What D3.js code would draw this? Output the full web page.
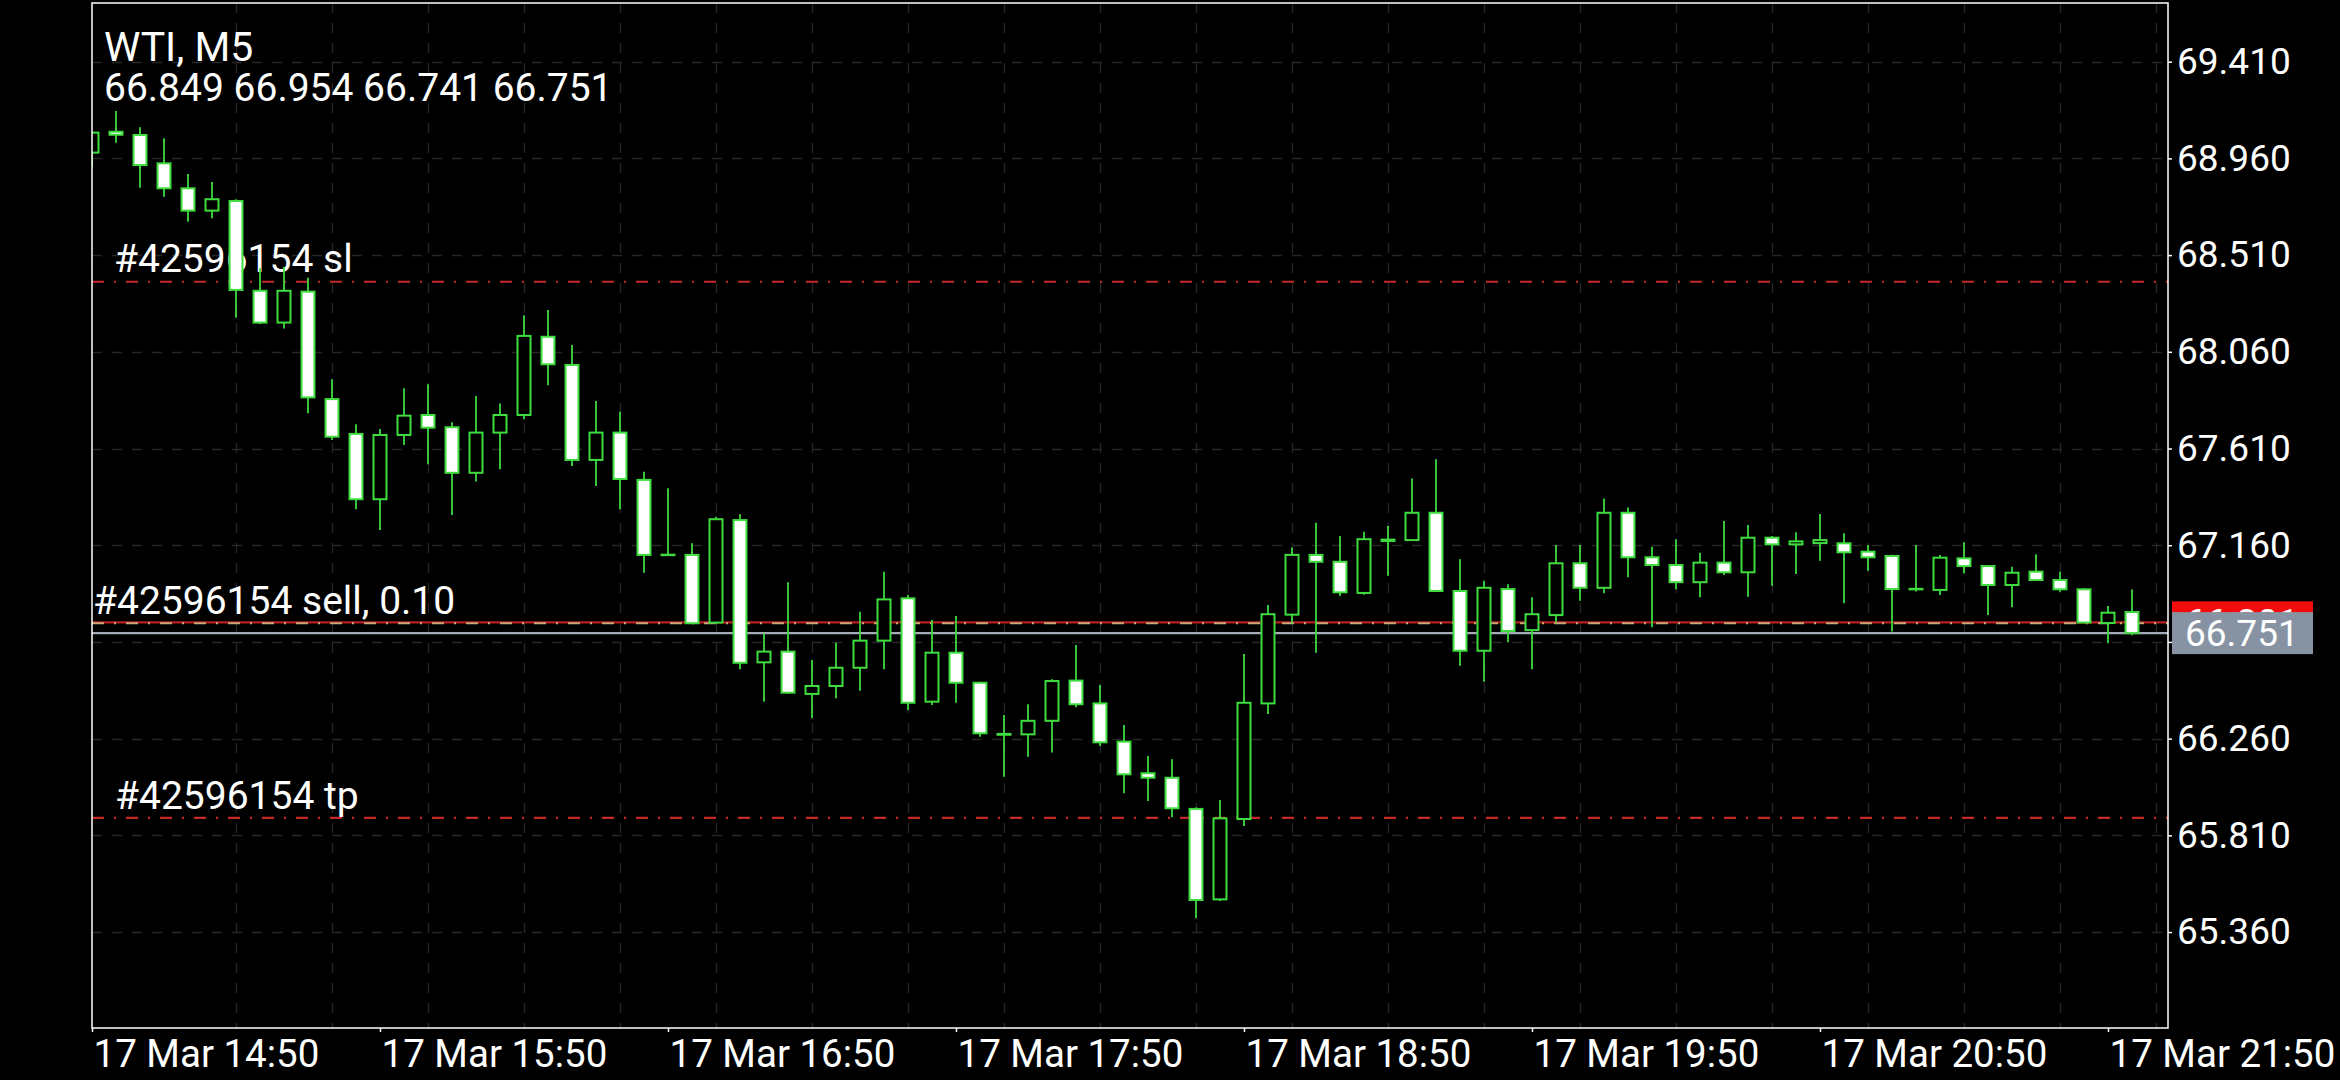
<!DOCTYPE html>
<html><head><meta charset="utf-8">
<script src="https://cdn.jsdelivr.net/npm/d3@7"></script>
<style>
html,body{margin:0;padding:0;background:#000;overflow:hidden}
svg{display:block}
text{font-family:Roboto,"Noto Sans",sans-serif;fill:#fff}
</style>
</head><body>
<svg id="chart" width="2340" height="1080"></svg>
<script>
// ---- data (WTI, M5, 17 Mar, candles from 14:50) ----
const symbolTitle = "WTI, M5";
const lastOHLC = "66.849 66.954 66.741 66.751";
const firstBar = "2025-03-17 14:50";
const barMinutes = 5;
const opens  = [68.987,69.084,69.069,68.937,68.821,68.717,68.762,68.344,68.196,68.340,67.840,67.678,67.374,67.673,67.766,67.709,67.497,67.684,67.766,68.130,67.999,67.557,67.684,67.464,67.116,67.115,66.800,67.277,66.615,66.665,66.468,66.505,66.590,66.716,66.913,66.432,66.660,66.520,66.282,66.280,66.343,66.530,66.424,66.246,66.099,66.078,65.933,65.512,65.886,66.424,66.837,67.115,67.083,66.938,67.186,67.184,67.311,66.947,66.669,66.956,66.765,66.835,67.076,66.962,67.311,67.104,67.068,66.988,67.079,67.034,67.195,67.164,67.170,67.169,67.130,67.110,66.957,66.952,67.099,67.063,66.975,67.037,66.998,66.955,66.798,66.849];
const highs  = [69.085,69.181,69.105,69.054,68.887,68.850,68.770,68.449,68.456,68.405,67.932,67.723,67.701,67.890,67.909,67.732,67.854,67.820,68.230,68.255,68.092,67.831,67.781,67.502,67.425,67.169,67.293,67.304,66.750,66.988,66.626,66.706,66.851,67.037,66.928,66.812,66.831,66.525,66.370,66.420,66.536,66.696,66.510,66.323,66.179,66.164,65.940,65.974,66.654,66.882,67.149,67.265,67.203,67.223,67.249,67.471,67.560,67.095,66.995,66.978,66.918,67.161,67.161,67.378,67.335,67.153,67.188,67.125,67.273,67.254,67.203,67.220,67.305,67.216,67.161,67.116,67.161,67.115,67.174,67.068,67.060,67.118,67.037,66.960,66.877,66.954];
const lows   = [68.921,69.033,68.824,68.782,68.665,68.681,68.219,68.190,68.169,67.774,67.650,67.327,67.231,67.626,67.537,67.301,67.456,67.513,67.746,67.904,67.529,67.436,67.327,67.032,67.110,66.795,66.795,66.583,66.432,66.470,66.355,66.448,66.483,66.583,66.393,66.416,66.427,66.269,66.083,66.176,66.195,66.406,66.226,66.006,65.970,65.894,65.424,65.505,65.853,66.375,66.797,66.660,66.924,66.930,67.018,67.180,66.942,66.599,66.525,66.708,66.583,66.800,66.902,66.936,67.011,66.778,66.955,66.918,67.021,66.920,66.972,67.026,67.088,66.890,67.041,66.758,66.945,66.928,67.029,66.835,66.871,66.995,66.944,66.798,66.704,66.741];
const closes = [69.080,69.070,68.929,68.821,68.717,68.770,68.348,68.196,68.344,67.848,67.665,67.374,67.673,67.763,67.707,67.497,67.684,67.766,68.134,68.002,67.557,67.684,67.468,67.115,67.114,66.797,67.281,66.613,66.665,66.474,66.505,66.590,66.716,66.908,66.427,66.660,66.520,66.285,66.278,66.343,66.528,66.420,66.243,66.094,66.078,65.936,65.509,65.889,66.427,66.839,67.115,67.083,66.941,67.188,67.180,67.311,66.947,66.669,66.962,66.761,66.839,67.076,66.962,67.311,67.104,67.068,66.988,67.079,67.034,67.195,67.164,67.178,67.184,67.127,67.104,66.956,66.955,67.102,67.063,66.975,67.032,66.998,66.955,66.800,66.846,66.751];

const priceTicks = [69.41, 68.96, 68.51, 68.06, 67.61, 67.16, 66.71, 66.26, 65.81, 65.36];
const hiddenPriceTicks = [66.71]; // covered by the bid/ask price boxes in the picture
const timeTicks  = ["14:50","15:50","16:50","17:50","18:50","19:50","20:50","21:50"];
const timeTickPrefix = "17 Mar ";

const orderId = "#42596154";
const slPrice = 68.386, entryPrice = 66.797, tpPrice = 65.891;
const askPrice = 66.801, bidPrice = 66.751;
const slLabel = orderId + " sl", entryLabel = orderId + " sell, 0.10", tpLabel = orderId + " tp";

// ---- layout ----
const L = 92, T = 3, R = 2168, B = 1028;
const GREEN = "#3fdc3f";
const FONT = "Roboto, 'Noto Sans', sans-serif";

const svg = d3.select("#chart");
svg.append("rect").attr("width", 2340).attr("height", 1080).attr("fill", "#000");

const parseT = d3.timeParse("%Y-%m-%d %H:%M");
const t0 = parseT(firstBar);
const times = opens.map((_, i) => d3.timeMinute.offset(t0, barMinutes * i));
const tEnd = d3.timeSecond.offset(t0, Math.round((R - L) / 24 * barMinutes * 60));
const x = d3.scaleTime().domain([t0, tEnd]).range([L, R]);
const y = d3.scaleLinear().domain([65.36, 69.41]).range([932.05, 61.7]);

svg.append("defs").append("clipPath").attr("id", "plotclip")
  .append("rect").attr("x", L).attr("y", T).attr("width", R - L).attr("height", B - T);

const plot = svg.append("g").attr("clip-path", "url(#plotclip)");

// grid
const gridColor = "#262626";
plot.append("g").selectAll("line").data(priceTicks).join("line")
  .attr("x1", L).attr("x2", R)
  .attr("y1", d => Math.round(y(d)) + 0.5).attr("y2", d => Math.round(y(d)) + 0.5)
  .attr("stroke", gridColor).attr("stroke-width", 1.3).attr("stroke-dasharray", "10,10");
const vGrid = d3.timeMinute.every(20).range(d3.timeMinute.offset(t0, 20), tEnd);
plot.append("g").selectAll("line").data(vGrid).join("line")
  .attr("x1", d => Math.round(x(d)) + 0.5).attr("x2", d => Math.round(x(d)) + 0.5)
  .attr("y1", T).attr("y2", B)
  .attr("stroke", gridColor).attr("stroke-width", 1.3).attr("stroke-dasharray", "10,10");

// trade level lines
function hline(p, color, w, dash) {
  const l = plot.append("line").attr("x1", L).attr("x2", R)
    .attr("y1", y(p)).attr("y2", y(p)).attr("stroke", color).attr("stroke-width", w);
  if (dash) l.attr("stroke-dasharray", dash);
}
hline(slPrice, "#c62828", 2.2, "12,10,2,10");
hline(tpPrice, "#c62828", 2.2, "12,10,2,10");
hline(askPrice, "#b81f1f", 2.2, null);
hline(entryPrice, "#c9a877", 2.2, "12,10,2,10");
hline(bidPrice, "#a3abb8", 2.2, null);

// trade labels (behind candles)
const lab = plot.append("g").style("font-size", "39px");
lab.append("text").attr("x", 114).attr("y", y(slPrice) - 10).text(slLabel);
lab.append("text").attr("x", 93).attr("y", y(entryPrice) - 9).text(entryLabel);
lab.append("text").attr("x", 115).attr("y", y(tpPrice) - 9).text(tpLabel);

// candles
const bars = opens.map((o, i) => ({t: times[i], o, h: highs[i], l: lows[i], c: closes[i]}));
const cg = plot.append("g");
cg.selectAll("line.wick").data(bars).join("line").attr("class", "wick")
  .attr("x1", d => Math.round(x(d.t))).attr("x2", d => Math.round(x(d.t)))
  .attr("y1", d => y(d.h)).attr("y2", d => y(d.l))
  .attr("stroke", GREEN).attr("stroke-width", 1.8);
const bodyW = 13;
cg.selectAll("rect.body").data(bars).join("rect").attr("class", "body")
  .attr("x", d => Math.round(x(d.t)) - bodyW / 2)
  .attr("width", bodyW)
  .attr("y", d => y(Math.max(d.o, d.c)))
  .attr("height", d => Math.max(Math.abs(y(d.o) - y(d.c)), 0.5))
  .attr("fill", d => d.c >= d.o ? "#000" : "#fff")
  .attr("stroke", GREEN).attr("stroke-width", 2);

// frame
svg.append("rect").attr("x", L).attr("y", T).attr("width", R - L).attr("height", B - T)
  .attr("fill", "none").attr("stroke", "#fff").attr("stroke-width", 1.5);

// y axis (right)
const yAxis = d3.axisRight(y).tickValues(priceTicks)
  .tickFormat(d => hiddenPriceTicks.includes(d) ? "" : d3.format(".3f")(d))
  .tickSize(4).tickPadding(5);
const yg = svg.append("g").attr("transform", `translate(${R},0)`).call(yAxis);
yg.select(".domain").remove();
yg.selectAll(".tick line").attr("stroke", "#fff").attr("stroke-width", 1.5);
yg.selectAll(".tick text").attr("fill", "#fff").style("font-size", "37px").style("font-family", FONT);

// x axis (bottom)
const xTickDates = timeTicks.map(s => parseT("2025-03-17 " + s));
const fmt = d3.timeFormat("%H:%M");
const xAxis = d3.axisBottom(x).tickValues(xTickDates).tickFormat(d => timeTickPrefix + fmt(d))
  .tickSize(4).tickPadding(8);
const xg = svg.append("g").attr("transform", `translate(0,${B})`).call(xAxis);
xg.select(".domain").remove();
xg.selectAll(".tick line").attr("stroke", "#fff").attr("stroke-width", 1.5);
xg.selectAll(".tick text").attr("fill", "#fff").attr("text-anchor", "start").attr("x", 1)
  .style("font-size", "38.5px").style("font-family", FONT);

// price boxes on the axis
function priceBox(p, fill) {
  const g = svg.append("g");
  const cy = y(p);
  g.append("rect").attr("x", 2172).attr("y", cy - 21).attr("width", 141).attr("height", 42).attr("fill", fill);
  g.append("text").attr("x", 2185).attr("y", cy + 13).style("font-size", "37px").text(d3.format(".3f")(p));
}
priceBox(askPrice, "#f20d0d");
priceBox(bidPrice, "#8793a3");

// header
svg.append("text").attr("x", 104).attr("y", 61).style("font-size", "41px").text(symbolTitle);
svg.append("text").attr("x", 104).attr("y", 101).style("font-size", "39px").text(lastOHLC);
</script>
</body></html>
